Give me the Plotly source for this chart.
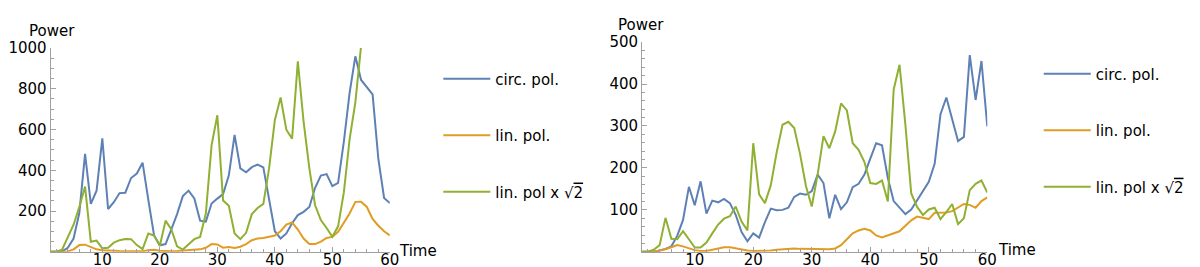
import plotly.graph_objects as go

time = list(range(1, 61))

left_circ = [0, 0, 2, 20, 65, 190, 480, 235, 300, 556, 210, 243, 288, 290, 362, 384, 437, 255, 80, 32,
             38, 110, 185, 273, 300, 262, 153, 148, 237, 261, 283, 375, 573, 409, 390, 415, 428, 414, 267, 101,
             65, 90, 140, 180, 196, 220, 314, 374, 381, 322, 338, 540, 780, 959, 843, 807, 772, 456, 264, 239]
left_lin = [0, 0, 0, 2, 12, 33, 35, 22, 12, 8, 5, 5, 4, 4, 3, 3, 3, 8, 10, 5,
            3, 3, 4, 6, 10, 12, 12, 20, 38, 36, 20, 23, 19, 25, 38, 57, 65, 68, 73, 80,
            101, 133, 144, 109, 65, 38, 38, 50, 68, 73, 98, 141, 188, 245, 246, 220, 161, 128, 101, 80]
left_lin2 = [0, 0, 10, 75, 133, 220, 320, 49, 55, 17, 20, 45, 57, 63, 62, 33, 13, 90, 80, 30,
             153, 110, 27, 11, 38, 62, 73, 188, 523, 670, 252, 226, 90, 62, 93, 185, 215, 235, 409, 646,
             757, 599, 555, 934, 638, 409, 228, 156, 117, 74, 125, 291, 551, 733, 1010, None, None, None, None, None]

right_circ = [0, 0, 0, 3, 7, 13, 38, 76, 155, 111, 168, 91, 122, 118, 126, 116, 88, 47, 25, 44,
              34, 71, 103, 99, 100, 105, 131, 139, 136, 145, 184, 164, 80, 136, 102, 118, 154, 162, 184, 222,
              259, 254, 176, 121, 105, 90, 101, 122, 145, 167, 210, 328, 368, 316, 264, 274, 469, 362, 455, 299]
right_lin = [0, 0, 1, 3, 6, 11, 16, 13, 8, 4, 2, 2, 5, 8, 11, 11, 8, 5, 3, 2,
             2, 2, 3, 5, 6, 6, 8, 7, 7, 7, 7, 6, 6, 8, 16, 30, 44, 51, 55, 51,
             39, 34, 39, 44, 49, 62, 75, 84, 81, 78, 93, 94, 94, 97, 105, 114, 112, 105, 121, 130]
right_lin2 = [0, 0, 5, 16, 81, 31, 30, 49, 30, 10, 10, 22, 44, 65, 79, 85, 108, 72, 51, 259,
              137, 116, 159, 237, 303, 310, 295, 233, 157, 108, 184, 276, 247, 287, 354, 337, 259, 243, 214, 164,
              162, 170, 120, 387, 446, 303, 139, 107, 88, 101, 105, 78, 95, 114, 66, 80, 147, 162, 170, 141]

names = ["circ. pol.", "lin. pol.", "lin. pol x √<span style='text-decoration:overline'>2</span>"]
colors = ["#5E81B5", "#E19C24", "#8FB032"]

left_y_ticks = [200, 400, 600, 800, 1000]
right_y_ticks = [100, 200, 300, 400, 500]
x_ticks = [10, 20, 30, 40, 50, 60]

W, H = 1200, 267
FONT = "DejaVu Sans, Arial, sans-serif"
FS = 15
AXC = "#a0a0a0"

fig = go.Figure()

for i, (ys, nm, c) in enumerate(zip([left_circ, left_lin, left_lin2], names, colors)):
    fig.add_trace(go.Scatter(x=time, y=ys, mode="lines", name=nm, line=dict(color=c, width=2),
                             xaxis="x", yaxis="y", legend="legend", legendgroup=f"l{i}"))
for i, (ys, nm, c) in enumerate(zip([right_circ, right_lin, right_lin2], names, colors)):
    fig.add_trace(go.Scatter(x=time, y=ys, mode="lines", name=nm, line=dict(color=c, width=2),
                             xaxis="x2", yaxis="y2", legend="legend2", legendgroup=f"r{i}"))

def xax(dom, anchor):
    return dict(domain=dom, anchor=anchor, range=[1, 60], showgrid=False, zeroline=False,
                showline=True, linecolor=AXC, linewidth=1, ticks="inside", ticklen=5, tickcolor=AXC,
                tickmode="array", tickvals=x_ticks, ticktext=[str(v) for v in x_ticks],
                tickfont=dict(size=FS, color="black", family=FONT), ticklabelstandoff=-6,
                minor=dict(tick0=0, dtick=2, ticks="inside", ticklen=3, tickcolor=AXC))

def yax(dom, anchor, rng, tv, mdt):
    return dict(domain=dom, anchor=anchor, range=rng, showgrid=False, zeroline=False,
                showline=True, linecolor=AXC, linewidth=1, ticks="inside", ticklen=5, tickcolor=AXC,
                tickmode="array", tickvals=tv, ticktext=[str(v) for v in tv],
                tickfont=dict(size=FS, color="black", family=FONT),
                minor=dict(tick0=0, dtick=mdt, ticks="inside", ticklen=3, tickcolor=AXC))

fig.update_layout(
    width=W, height=H, margin=dict(l=0, r=0, t=0, b=0),
    paper_bgcolor="white", plot_bgcolor="white",
    font=dict(family=FONT, size=FS, color="black"),
    xaxis=xax([40 / W, 383 / W], "y"),
    yaxis=yax([24 / H, 235 / H], "x", [0, 1000], left_y_ticks, 50),
    xaxis2=xax([638 / W, 987 / W], "y2"),
    yaxis2=yax([24 / H, 241 / H], "x2", [0, 500], right_y_ticks, 20),
    legend=dict(x=432 / W, y=1 - 47 / H, xanchor="left", yanchor="top", tracegroupgap=34, itemwidth=47,
                font=dict(size=FS, family=FONT), bgcolor="rgba(0,0,0,0)"),
    legend2=dict(x=1039 / W, y=1 - 42 / H, xanchor="left", yanchor="top", tracegroupgap=34, itemwidth=47,
                 font=dict(size=FS, family=FONT), bgcolor="rgba(0,0,0,0)"),
    annotations=[
        dict(text="Power", xref="paper", yref="paper", x=41 / W, y=1 - 14 / H, showarrow=False,
             xanchor="center", yanchor="middle", font=dict(size=FS)),
        dict(text="Time", xref="paper", yref="paper", x=390 / W, y=1 - 242 / H, showarrow=False,
             xanchor="left", yanchor="middle", font=dict(size=FS)),
        dict(text="Power", xref="paper", yref="paper", x=637 / W, y=1 - 8 / H, showarrow=False,
             xanchor="center", yanchor="middle", font=dict(size=FS)),
        dict(text="Time", xref="paper", yref="paper", x=996 / W, y=1 - 241 / H, showarrow=False,
             xanchor="left", yanchor="middle", font=dict(size=FS)),
    ],
    showlegend=True,
)

fig.write_html("out.html")
